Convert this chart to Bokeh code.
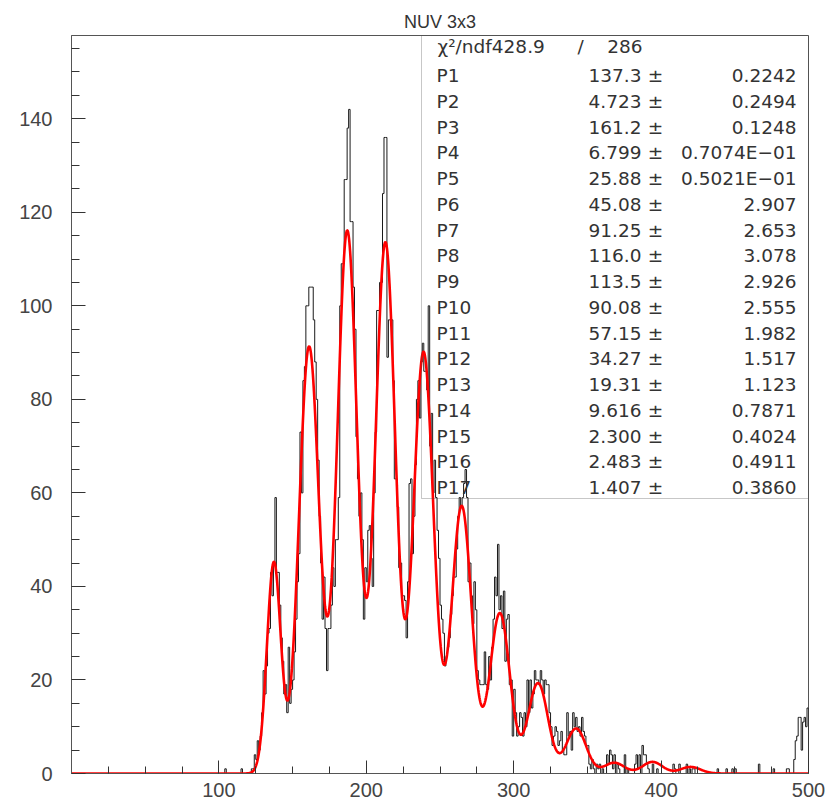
import numpy as np
from bokeh.plotting import figure
from bokeh.models import FixedTicker, BoxAnnotation, ColumnDataSource
from bokeh.core.properties import value
from bokeh.embed import file_html
from bokeh.resources import INLINE

# ---------------- data ----------------
TITLE = "NUV 3x3"
bin_start = 100
bin_width = 1
counts = [
    0, 0, 0, 0, 1, 0, 0, 0, 0, 0, 0, 0, 0, 0, 0, 1, 0, 0, 0, 0,            # 100-119
    0, 0, 1, 1, 4, 3, 7, 5, 8, 13, 22, 17, 23, 30, 31, 43, 38, 45, 59, 43,  # 120-139
    43, 36, 29, 24, 17, 19, 13, 27, 15, 18, 20, 26, 33, 41, 47, 73, 60, 84, 87, 100,  # 140-159
    100, 104, 104, 104, 97, 88, 80, 67, 55, 45, 33, 42, 31, 22, 31, 31, 36, 44, 40, 50,  # 160-179
    50, 59, 100, 109, 109, 127, 127, 138, 142, 118, 118, 104, 95, 72, 63, 55, 60, 50, 33, 44,  # 180-199
    41, 52, 53, 46, 40, 60, 73, 99, 99, 105, 105, 124, 136, 136, 89, 97, 97, 97, 84, 63,  # 200-219
    63, 57, 44, 45, 38, 38, 37, 29, 41, 62, 63, 47, 55, 66, 80, 84, 76, 88, 92, 86,  # 220-239
    86, 82, 100, 70, 77, 60, 67, 59, 52, 46, 36, 33, 30, 23, 25, 27, 29, 34, 38, 42,  # 240-259
    42, 48, 55, 59, 57, 59, 62, 65, 59, 41, 45, 38, 32, 41, 35, 22, 20, 19, 19, 19,  # 260-279
    26, 19, 18, 25, 20, 27, 33, 42, 38, 49, 35, 38, 31, 39, 24, 33, 34, 19, 20, 8,  # 280-299
    18, 13, 8, 10, 13, 12, 8, 13, 10, 20, 13, 20, 14, 17, 22, 20, 20, 19, 22, 20,  # 300-319
    17, 20, 19, 19, 13, 10, 6, 8, 10, 9, 6, 7, 9, 5, 4, 4, 13, 8, 9, 5,  # 320-339
    13, 10, 12, 9, 10, 8, 12, 9, 8, 6, 6, 2, 1, 3, 1, 0, 2, 1, 2, 0,  # 340-359
    1, 0, 0, 4, 2, 5, 4, 1, 4, 0, 2, 1, 0, 0, 0, 4, 0, 1, 0, 0,  # 360-379
    0, 0, 2, 4, 1, 4, 0, 6, 4, 4, 2, 1, 0, 0, 2, 0, 0, 1, 0, 0,  # 380-399
    0, 0, 0, 0, 0, 0, 0, 0, 2, 1, 0, 0, 2, 0, 0, 0, 0, 2, 0, 1,  # 400-419
    0, 1, 1, 0, 0, 0, 0, 0, 0, 0, 0, 0, 0, 0, 0, 0, 0, 0, 1, 0,  # 420-439
    0, 0, 0, 0, 1, 0, 0, 0, 1, 0, 1, 0, 0, 0, 0, 0, 0, 0, 0, 0,  # 440-459
    0, 0, 0, 0, 0, 0, 2, 0, 0, 0, 0, 0, 0, 0, 0, 0, 1, 0, 0, 0,  # 460-479
    0, 0, 0, 0, 0, 1, 1, 0, 0, 0, 3, 7, 8, 12, 12, 5, 11, 12, 10, 14,  # 480-499
]

param_names = ["P1", "P2", "P3", "P4", "P5", "P6", "P7", "P8", "P9", "P10",
               "P11", "P12", "P13", "P14", "P15", "P16", "P17"]
param_values = [137.3, 4.723, 161.2, 6.799, 25.88, 45.08, 91.25, 116.0, 113.5,
                90.08, 57.15, 34.27, 19.31, 9.616, 2.300, 2.483, 1.407]
param_value_labels = ["137.3", "4.723", "161.2", "6.799", "25.88", "45.08", "91.25",
                      "116.0", "113.5", "90.08", "57.15", "34.27", "19.31", "9.616",
                      "2.300", "2.483", "1.407"]
param_error_labels = ["0.2242", "0.2494", "0.1248", "0.7074E\u221201", "0.5021E\u221201",
                      "2.907", "2.653", "3.078", "2.926", "2.555", "1.982", "1.517",
                      "1.123", "0.7871", "0.4024", "0.4911", "0.3860"]
chi2_label = "\u03c7\u00b2/ndf428.9"
ndf_label = "286"

x_ticks = [100, 200, 300, 400, 500]
x_minor = [25, 50, 75, 125, 150, 175, 225, 250, 275, 325, 350, 375, 425, 450, 475]
y_ticks = [0, 20, 40, 60, 80, 100, 120, 140]
y_minor = [5, 10, 15, 25, 30, 35, 45, 50, 55, 65, 70, 75, 85, 90, 95, 105, 110, 115,
           125, 130, 135, 145, 150, 155]

X_MAX = 500
Y_MAX = 157.8

# ---------------- layout helpers (pixel -> data) ----------------
FL, FR, FT, FB = 71, 808, 35, 773
def dx(px):
    return (px - FL) * X_MAX / (FR - FL)
def dy(py):
    return (FB - py) * Y_MAX / (FB - FT)

p = figure(frame_width=FR - FL, frame_height=FB - FT,
           x_range=(0, X_MAX), y_range=(0, Y_MAX),
           output_backend="svg", toolbar_location=None,
           min_border_left=FL, min_border_right=836 - FR,
           min_border_top=FT, min_border_bottom=803 - FB,
           background_fill_color="white", border_fill_color="white")

p.title.text = TITLE
p.title.align = "center"
p.title.text_font = "Liberation Sans"
p.title.text_font_size = "18px"
p.title.text_font_style = "normal"
p.title.text_color = "#333333"
p.title.standoff = 8

p.grid.visible = False
p.outline_line_color = "#555555"
p.outline_line_width = 1

# histogram (step outline)
edges = [bin_start + i * bin_width for i in range(len(counts) + 1)]
ys = list(counts) + [0]
p.step(edges, ys, mode="after", line_color="#1a1a1a", line_width=1)

# fit curve from the displayed parameters
P = param_values
xf = np.linspace(0, X_MAX, 2001)
yf = P[5] * np.exp(-(xf - P[0]) ** 2 / (2 * P[1] ** 2))
for k in range(11):
    mu = P[2] + k * P[4]
    yf = yf + P[6 + k] * np.exp(-(xf - mu) ** 2 / (2 * P[3] ** 2))
p.line(xf, yf, line_color="#ff0000", line_width=2.6)

# axes
for ax in (p.xaxis[0], p.yaxis[0]):
    ax.axis_line_color = "#555555"
    ax.major_tick_line_color = "#333333"
    ax.minor_tick_line_color = "#333333"
    ax.major_tick_out = 0
    ax.minor_tick_out = 0
    ax.major_label_text_font = "Liberation Sans"
    ax.major_label_text_font_size = "20px"
    ax.major_label_text_color = "#444444"
p.xaxis.ticker = FixedTicker(ticks=x_ticks, minor_ticks=x_minor)
p.yaxis.ticker = FixedTicker(ticks=y_ticks, minor_ticks=y_minor)
p.xaxis.major_tick_in = 13
p.xaxis.minor_tick_in = 7
p.xaxis.major_label_standoff = 9
p.yaxis.major_tick_in = 14
p.yaxis.minor_tick_in = 8
p.yaxis.major_label_standoff = 19

# stats box
box = BoxAnnotation(left=dx(421), right=X_MAX, bottom=dy(498), top=Y_MAX,
                    fill_color=None, line_color="#444444", line_width=1)
p.add_layout(box)

FONT = value("DejaVu Sans")
FS = "18.5px"
TC = "#333333"
row_py = [75 + 25.75 * i for i in range(len(param_names))]
row_y = [dy(v) for v in row_py]

names_src = ColumnDataSource(dict(x=[dx(436)] * len(param_names), y=row_y, t=param_names))
vals_src = ColumnDataSource(dict(x=[dx(641)] * len(param_names), y=row_y, t=param_value_labels))
pm_src = ColumnDataSource(dict(x=[dx(655)] * len(param_names), y=row_y, t=["\u00b1"] * len(param_names)))
err_src = ColumnDataSource(dict(x=[dx(796)] * len(param_names), y=row_y, t=param_error_labels))

for src, align in ((names_src, "left"), (vals_src, "right"), (pm_src, "center"), (err_src, "right")):
    p.text(x="x", y="y", text="t", source=src, text_font=FONT, text_font_size=FS,
           text_color=TC, text_align=align, text_baseline="middle")

chi_y = dy(46)
p.text(x=[dx(437)], y=[chi_y], text=[chi2_label], text_font=FONT, text_font_size=FS,
       text_color=TC, text_align="left", text_baseline="middle")
p.text(x=[dx(580)], y=[chi_y], text=["/"], text_font=FONT, text_font_size=FS,
       text_color=TC, text_align="center", text_baseline="middle")
p.text(x=[dx(642)], y=[chi_y], text=[ndf_label], text_font=FONT, text_font_size=FS,
       text_color=TC, text_align="right", text_baseline="middle")

open("out.html", "w").write(file_html(p, INLINE))
